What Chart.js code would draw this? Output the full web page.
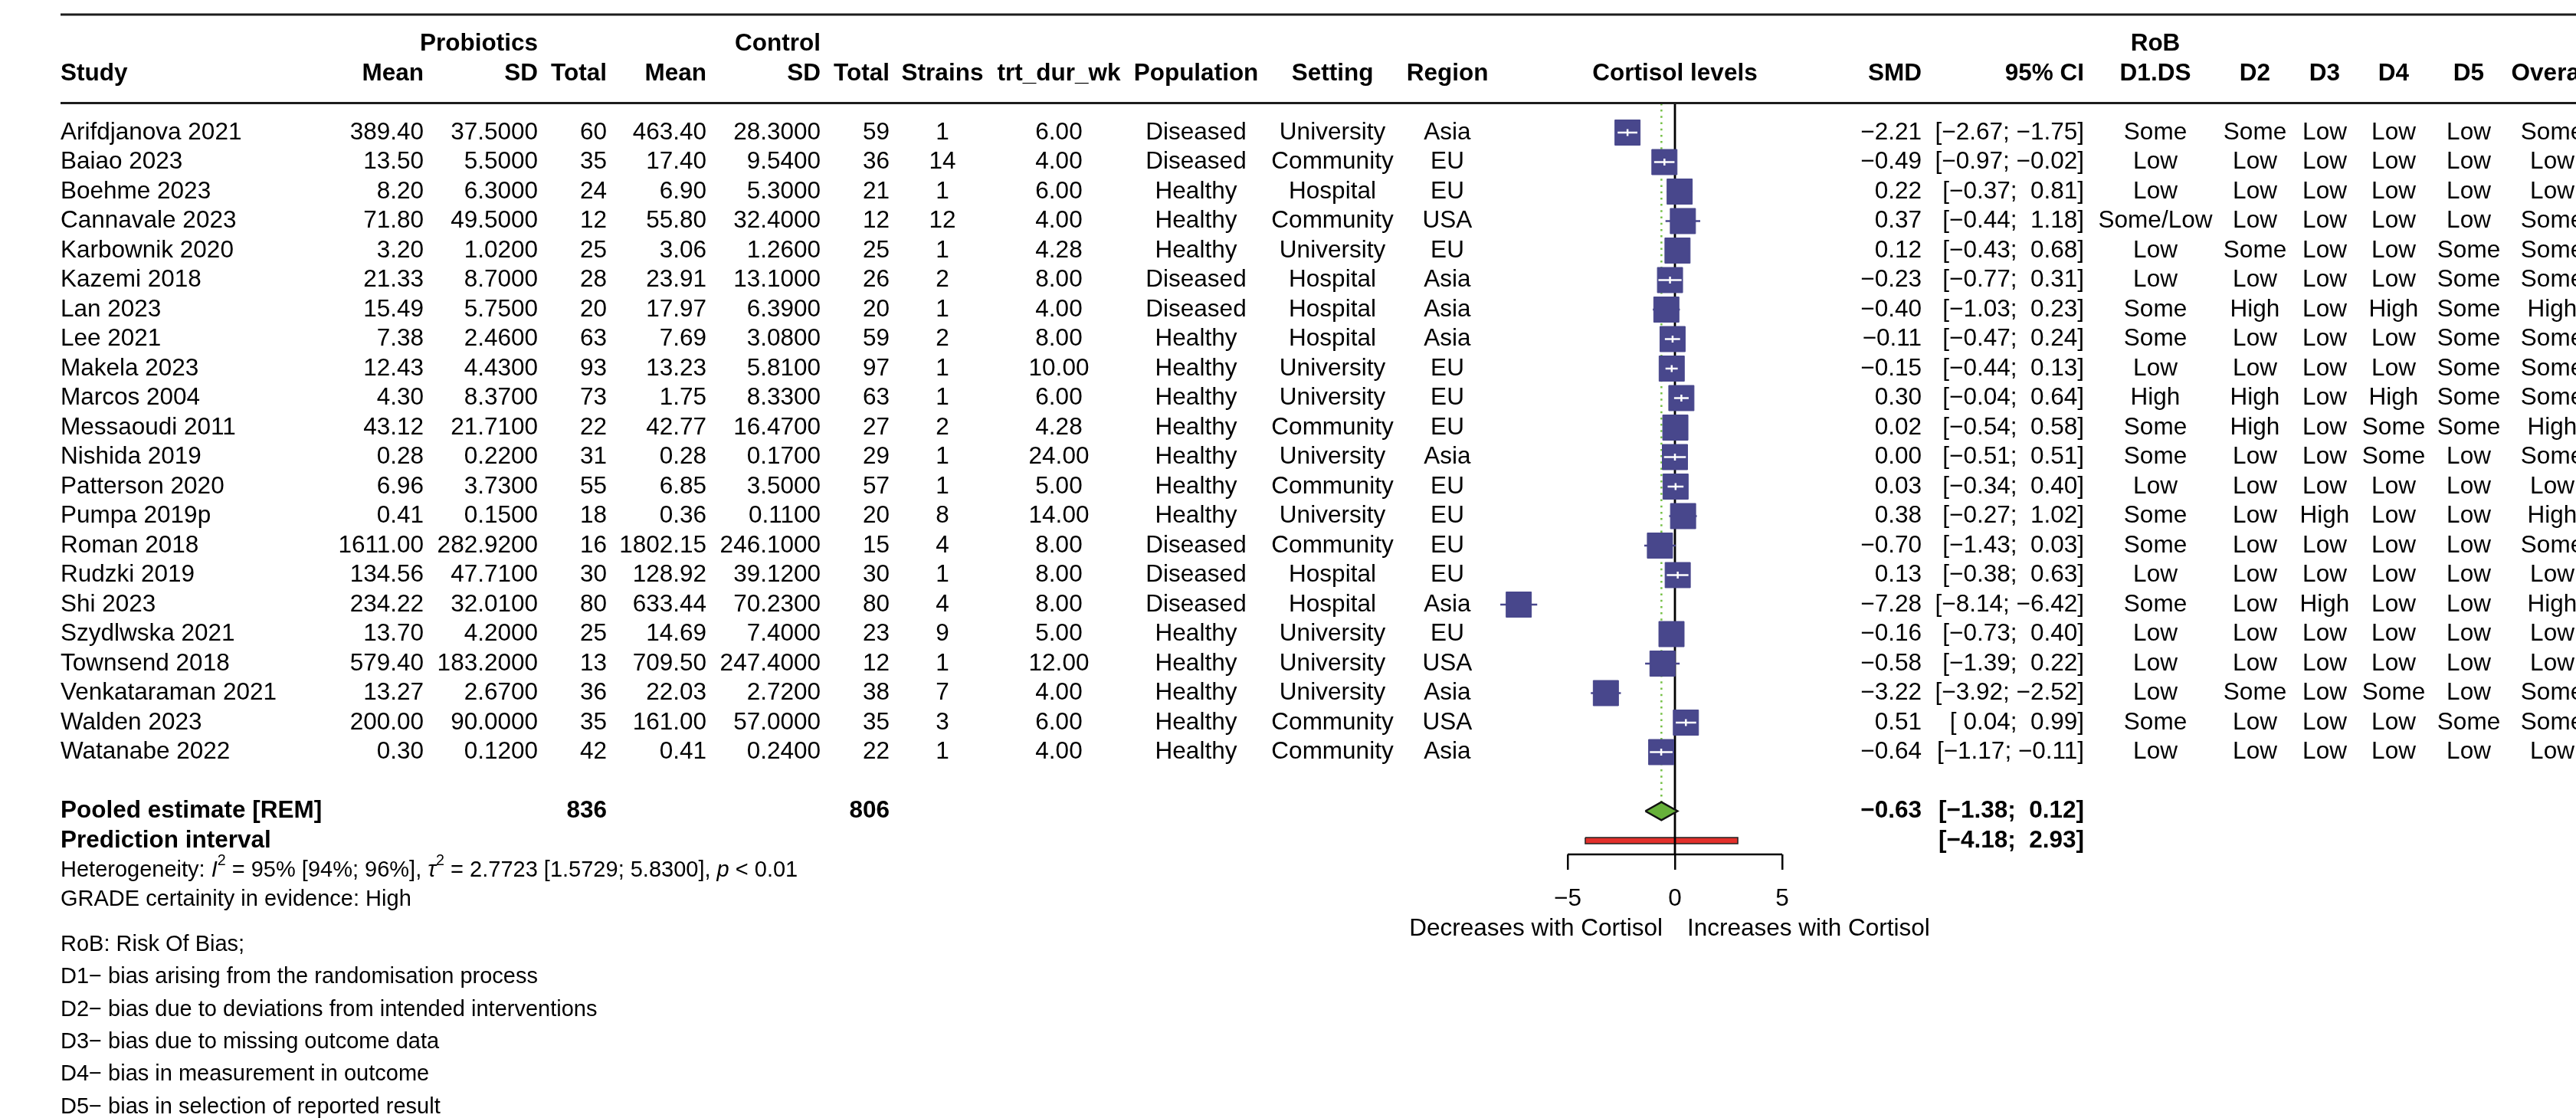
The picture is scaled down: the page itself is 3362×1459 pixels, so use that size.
<!DOCTYPE html>
<html lang="en">
<head>
<meta charset="UTF-8">
<title>Probiotics and cortisol levels - forest plot</title>
<style>
  body { margin: 0; background: #fff; }
  canvas { display: block; }
</style>
</head>
<body>
<canvas id="forest" width="3362" height="1459"></canvas>

<script src="https://cdn.jsdelivr.net/npm/chart.js@4"></script>
<script>
// ---- data ----
const studies = ['Arifdjanova 2021', 'Baiao 2023', 'Boehme 2023', 'Cannavale 2023', 'Karbownik 2020',
  'Kazemi 2018', 'Lan 2023', 'Lee 2021', 'Makela 2023', 'Marcos 2004', 'Messaoudi 2011', 'Nishida 2019',
  'Patterson 2020', 'Pumpa 2019p', 'Roman 2018', 'Rudzki 2019', 'Shi 2023', 'Szydlwska 2021',
  'Townsend 2018', 'Venkataraman 2021', 'Walden 2023', 'Watanabe 2022'];
const probMean = [389.40, 13.50, 8.20, 71.80, 3.20, 21.33, 15.49, 7.38, 12.43, 4.30, 43.12, 0.28,
  6.96, 0.41, 1611.00, 134.56, 234.22, 13.70, 579.40, 13.27, 200.00, 0.30];
const probSD = [37.5, 5.5, 6.3, 49.5, 1.02, 8.7, 5.75, 2.46, 4.43, 8.37, 21.71, 0.22,
  3.73, 0.15, 282.92, 47.71, 32.01, 4.2, 183.2, 2.67, 90.0, 0.12];
const probN = [60, 35, 24, 12, 25, 28, 20, 63, 93, 73, 22, 31, 55, 18, 16, 30, 80, 25, 13, 36, 35, 42];
const ctrlMean = [463.40, 17.40, 6.90, 55.80, 3.06, 23.91, 17.97, 7.69, 13.23, 1.75, 42.77, 0.28,
  6.85, 0.36, 1802.15, 128.92, 633.44, 14.69, 709.50, 22.03, 161.00, 0.41];
const ctrlSD = [28.3, 9.54, 5.3, 32.4, 1.26, 13.1, 6.39, 3.08, 5.81, 8.33, 16.47, 0.17,
  3.5, 0.11, 246.1, 39.12, 70.23, 7.4, 247.4, 2.72, 57.0, 0.24];
const ctrlN = [59, 36, 21, 12, 25, 26, 20, 59, 97, 63, 27, 29, 57, 20, 15, 30, 80, 23, 12, 38, 35, 22];
const strains = [1, 14, 1, 12, 1, 2, 1, 2, 1, 1, 2, 1, 1, 8, 4, 1, 4, 9, 1, 7, 3, 1];
const durationWk = [6, 4, 6, 4, 4.28, 8, 4, 8, 10, 6, 4.28, 24, 5, 14, 8, 8, 8, 5, 12, 4, 6, 4];
const population = ['Diseased', 'Diseased', 'Healthy', 'Healthy', 'Healthy', 'Diseased', 'Diseased',
  'Healthy', 'Healthy', 'Healthy', 'Healthy', 'Healthy', 'Healthy', 'Healthy', 'Diseased', 'Diseased',
  'Diseased', 'Healthy', 'Healthy', 'Healthy', 'Healthy', 'Healthy'];
const setting = ['University', 'Community', 'Hospital', 'Community', 'University', 'Hospital', 'Hospital',
  'Hospital', 'University', 'University', 'Community', 'University', 'Community', 'University',
  'Community', 'Hospital', 'Hospital', 'University', 'University', 'University', 'Community', 'Community'];
const region = ['Asia', 'EU', 'EU', 'USA', 'EU', 'Asia', 'Asia', 'Asia', 'EU', 'EU', 'EU', 'Asia',
  'EU', 'EU', 'EU', 'EU', 'Asia', 'EU', 'USA', 'Asia', 'USA', 'Asia'];
const smd = [-2.21, -0.49, 0.22, 0.37, 0.12, -0.23, -0.40, -0.11, -0.15, 0.30, 0.02, 0.00,
  0.03, 0.38, -0.70, 0.13, -7.28, -0.16, -0.58, -3.22, 0.51, -0.64];
const ciLow = [-2.67, -0.97, -0.37, -0.44, -0.43, -0.77, -1.03, -0.47, -0.44, -0.04, -0.54, -0.51,
  -0.34, -0.27, -1.43, -0.38, -8.14, -0.73, -1.39, -3.92, 0.04, -1.17];
const ciHigh = [-1.75, -0.02, 0.81, 1.18, 0.68, 0.31, 0.23, 0.24, 0.13, 0.64, 0.58, 0.51,
  0.40, 1.02, 0.03, 0.63, -6.42, 0.40, 0.22, -2.52, 0.99, -0.11];
const robD1 = ['Some', 'Low', 'Low', 'Some/Low', 'Low', 'Low', 'Some', 'Some', 'Low', 'High', 'Some', 'Some',
  'Low', 'Some', 'Some', 'Low', 'Some', 'Low', 'Low', 'Low', 'Some', 'Low'];
const robD2 = ['Some', 'Low', 'Low', 'Low', 'Some', 'Low', 'High', 'Low', 'Low', 'High', 'High', 'Low',
  'Low', 'Low', 'Low', 'Low', 'Low', 'Low', 'Low', 'Some', 'Low', 'Low'];
const robD3 = ['Low', 'Low', 'Low', 'Low', 'Low', 'Low', 'Low', 'Low', 'Low', 'Low', 'Low', 'Low',
  'Low', 'High', 'Low', 'Low', 'High', 'Low', 'Low', 'Low', 'Low', 'Low'];
const robD4 = ['Low', 'Low', 'Low', 'Low', 'Low', 'Low', 'High', 'Low', 'Low', 'High', 'Some', 'Some',
  'Low', 'Low', 'Low', 'Low', 'Low', 'Low', 'Low', 'Some', 'Low', 'Low'];
const robD5 = ['Low', 'Low', 'Low', 'Low', 'Some', 'Some', 'Some', 'Some', 'Some', 'Some', 'Some', 'Low',
  'Low', 'Low', 'Low', 'Low', 'Low', 'Low', 'Low', 'Low', 'Some', 'Low'];
const robOverall = ['Some', 'Low', 'Low', 'Some', 'Some', 'Some', 'High', 'Some', 'Some', 'Some', 'High', 'Some',
  'Low', 'High', 'Some', 'Low', 'High', 'Low', 'Low', 'Some', 'Some', 'Low'];

const pooledTotals = [836, 806];
const pooledSMD = -0.63;
const pooledCI = [-1.38, 0.12];
const predictionCI = [-4.18, 2.93];
const xTicks = [-5, 0, 5];
const hetI2 = [95, 94, 96];
const hetTau2 = [2.7723, 1.5729, 5.8300];
const hetP = '< 0.01';
const gradeText = 'GRADE certainity in evidence: High';
const robNotes = ['RoB: Risk Of Bias;',
  'D1\u2212 bias arising from the randomisation process',
  'D2\u2212 bias due to deviations from intended interventions',
  'D3\u2212 bias due to missing outcome data',
  'D4\u2212 bias in measurement in outcome',
  'D5\u2212 bias in selection of reported result'];

// ---- look ----
const FONT = '"Liberation Sans", Arial, sans-serif';
const NAVY = '#48478c';
const ROW0 = 173, STEP = 38.5;           // pixel centre of first study row, row height
const AREA_TOP = 135, AXIS_Y = 1115;     // header rule / x axis line
const X_MIN = -9;                        // room for Shi 2023 left of the axis
const BOX_UNITS = 1.09;                  // CI narrower than this fits inside the square
const Y_MIN = (AREA_TOP - ROW0) / STEP, Y_MAX = (AXIS_Y - ROW0) / STEP;

const minus = v => (v < 0 ? '\u2212' : '') + Math.abs(v).toFixed(2);
const pad5 = s => s.length < 5 ? ' '.repeat(5 - s.length) + s : s;
const fmtCI = (lo, hi) => '[' + pad5(minus(lo)) + '; ' + pad5(minus(hi)) + ']';

const rows = studies.map((s, i) => i);
const inside = rows.filter(i => ciHigh[i] - ciLow[i] <= BOX_UNITS);

const datasets = [];
// prediction interval bar
const pr = 24, ph = 0.105;
datasets.push({
  type: 'line', order: 10, clip: false, fill: 'shape', tension: 0, pointRadius: 0,
  backgroundColor: '#e3302b', borderColor: '#222', borderWidth: 1.5,
  data: [{x: predictionCI[0], y: pr - ph}, {x: predictionCI[1], y: pr - ph},
         {x: predictionCI[1], y: pr + ph}, {x: predictionCI[0], y: pr + ph}, {x: predictionCI[0], y: pr - ph}]
});
// line of no effect and x axis line (only between the outer ticks)
datasets.push({
  type: 'line', order: 9, clip: false, pointRadius: 0, borderColor: '#000', borderWidth: 2.8,
  data: [{x: 0, y: -0.99}, {x: 0, y: Y_MAX}]
});
datasets.push({
  type: 'line', order: 9, clip: false, pointRadius: 0, borderColor: '#000', borderWidth: 2.5,
  data: [{x: xTicks[0], y: Y_MAX}, {x: xTicks[xTicks.length - 1], y: Y_MAX}]
});
// pooled estimate reference (dotted)
datasets.push({
  type: 'line', order: 8, clip: false, pointRadius: 0, borderColor: '#74c044', borderWidth: 2.5,
  borderDash: [2.5, 5.7],
  data: [{x: pooledSMD, y: -0.99}, {x: pooledSMD, y: 23 - 0.32}]
});
// confidence intervals
rows.forEach(i => datasets.push({
  type: 'line', order: 6, clip: false, pointRadius: 0, borderColor: NAVY, borderWidth: 2.5,
  data: [{x: ciLow[i], y: i}, {x: ciHigh[i], y: i}]
}));
// study squares
datasets.push({
  type: 'scatter', order: 5, clip: false, pointStyle: 'rect', pointRadius: 23.3,
  backgroundColor: NAVY, borderColor: NAVY, borderWidth: 1,
  data: rows.map(i => ({x: smd[i], y: i}))
});
// CIs that fit inside the square are drawn in white
inside.forEach(i => datasets.push({
  type: 'line', order: 4, clip: false, pointRadius: 0, borderColor: '#fff', borderWidth: 2.5,
  data: [{x: ciLow[i], y: i}, {x: ciHigh[i], y: i}]
}));
datasets.push({
  type: 'scatter', order: 3, clip: false, pointStyle: 'line', rotation: 90, pointRadius: 4.5,
  borderColor: '#fff', borderWidth: 2.5,
  data: inside.map(i => ({x: smd[i], y: i}))
});
// pooled diamond
const dr = 23, dh = 0.31;
datasets.push({
  type: 'line', order: 2, clip: false, fill: 'shape', tension: 0, pointRadius: 0,
  backgroundColor: '#67b13a', borderColor: '#111', borderWidth: 2.5,
  data: [{x: pooledCI[0], y: dr}, {x: pooledSMD, y: dr - dh}, {x: pooledCI[1], y: dr},
         {x: pooledSMD, y: dr + dh}, {x: pooledCI[0], y: dr}]
});

// table columns: x position and alignment
const cols = {
  study: [79, 'left'], pMean: [553, 'right'], pSD: [702, 'right'], pN: [792, 'right'],
  cMean: [922, 'right'], cSD: [1071, 'right'], cN: [1161, 'right'], strains: [1230, 'center'],
  dur: [1382, 'center'], pop: [1561, 'center'], setting: [1739, 'center'], region: [1889, 'center'],
  smd: [2508, 'right'], ci: [2720, 'right'], d1: [2813, 'center'], d2: [2943, 'center'],
  d3: [3034, 'center'], d4: [3124, 'center'], d5: [3222, 'center'], overall: [3331, 'center']
};

const tablePlugin = {
  id: 'forestTable',
  afterDraw(chart) {
    const ctx = chart.ctx;
    const ys = chart.scales.y, xs = chart.scales.x;
    const rowY = r => ys.getPixelForValue(r);
    const put = (str, col, r, bold, size) => {
      ctx.font = (bold ? 'bold ' : '') + (size || 31.5) + 'px ' + FONT;
      ctx.textAlign = col[1];
      ctx.textBaseline = 'middle';
      ctx.fillStyle = '#000';
      ctx.fillText(str, col[0], rowY(r));
    };
    ctx.save();

    // horizontal rules
    ctx.strokeStyle = '#1c1c1c';
    ctx.lineWidth = 3;
    [-4, -1].forEach(r => {
      ctx.beginPath();
      ctx.moveTo(79, rowY(r));
      ctx.lineTo(chart.width, rowY(r));
      ctx.stroke();
    });

    // headers
    put('Probiotics', cols.pSD, -3, true);
    put('Control', cols.cSD, -3, true);
    put('RoB', cols.d1, -3, true);
    const heads = [['Study', cols.study], ['Mean', cols.pMean], ['SD', cols.pSD], ['Total', cols.pN],
      ['Mean', cols.cMean], ['SD', cols.cSD], ['Total', cols.cN], ['Strains', cols.strains],
      ['trt_dur_wk', cols.dur], ['Population', cols.pop], ['Setting', cols.setting], ['Region', cols.region],
      ['Cortisol levels', [xs.getPixelForValue(0), 'center']], ['SMD', cols.smd], ['95% CI', cols.ci],
      ['D1.DS', cols.d1], ['D2', cols.d2], ['D3', cols.d3], ['D4', cols.d4], ['D5', cols.d5],
      ['Overall', cols.overall]];
    heads.forEach(h => put(h[0], h[1], -2, true));

    // study rows
    rows.forEach(i => {
      put(studies[i], cols.study, i);
      put(probMean[i].toFixed(2), cols.pMean, i);
      put(probSD[i].toFixed(4), cols.pSD, i);
      put(String(probN[i]), cols.pN, i);
      put(ctrlMean[i].toFixed(2), cols.cMean, i);
      put(ctrlSD[i].toFixed(4), cols.cSD, i);
      put(String(ctrlN[i]), cols.cN, i);
      put(String(strains[i]), cols.strains, i);
      put(durationWk[i].toFixed(2), cols.dur, i);
      put(population[i], cols.pop, i);
      put(setting[i], cols.setting, i);
      put(region[i], cols.region, i);
      put(minus(smd[i]), cols.smd, i);
      put(fmtCI(ciLow[i], ciHigh[i]), cols.ci, i);
      put(robD1[i], cols.d1, i);
      put(robD2[i], cols.d2, i);
      put(robD3[i], cols.d3, i);
      put(robD4[i], cols.d4, i);
      put(robD5[i], cols.d5, i);
      put(robOverall[i], cols.overall, i);
    });

    // pooled rows
    put('Pooled estimate [REM]', cols.study, 23, true);
    put(String(pooledTotals[0]), cols.pN, 23, true);
    put(String(pooledTotals[1]), cols.cN, 23, true);
    put(minus(pooledSMD), cols.smd, 23, true);
    put(fmtCI(pooledCI[0], pooledCI[1]), cols.ci, 23, true);
    put('Prediction interval', cols.study, 24, true);
    put(fmtCI(predictionCI[0], predictionCI[1]), cols.ci, 24, true);

    // heterogeneity line with italics and superscripts
    const size = 29;
    const parts = [
      {t: 'Heterogeneity: '}, {t: 'I', it: true}, {t: '2', sup: true},
      {t: ' = ' + hetI2[0] + '% [' + hetI2[1] + '%; ' + hetI2[2] + '%], '},
      {t: '\u03c4', it: true}, {t: '2', sup: true},
      {t: ' = ' + hetTau2[0].toFixed(4) + ' [' + hetTau2[1].toFixed(4) + '; ' + hetTau2[2].toFixed(4) + '], '},
      {t: 'p', it: true}, {t: ' ' + hetP}
    ];
    let cx = cols.study[0];
    ctx.textAlign = 'left';
    ctx.textBaseline = 'middle';
    parts.forEach(p => {
      const s = p.sup ? size * 0.68 : size;
      ctx.font = (p.it ? 'italic ' : '') + s + 'px ' + FONT;
      ctx.fillText(p.t, cx, rowY(25) - (p.sup ? size * 0.4 : 0));
      cx += ctx.measureText(p.t).width;
    });
    put(gradeText, cols.study, 26, false, size);
    robNotes.forEach((t, k) => put(t, cols.study, 27.53 + k * 1.1, false, size));

    // axis side labels
    const x0 = xs.getPixelForValue(0);
    put('Decreases with Cortisol', [x0 - 16, 'right'], 27);
    put('Increases with Cortisol', [x0 + 16, 'left'], 27);
    ctx.restore();
  }
};

const ctx = document.getElementById('forest').getContext('2d');
const chart = new Chart(ctx, {
  type: 'scatter',
  data: { datasets: datasets },
  options: {
    responsive: false,
    animation: false,
    devicePixelRatio: 1,
    events: [],
    layout: { padding: { left: 2186 + X_MIN * 28, right: 3362 - 2326, top: AREA_TOP, bottom: 1459 - AXIS_Y - 76.8 } },
    plugins: { legend: { display: false }, tooltip: { enabled: false } },
    scales: {
      x: {
        type: 'linear', position: 'bottom', min: X_MIN, max: xTicks[xTicks.length - 1],
        afterBuildTicks: axis => { axis.ticks = xTicks.map(v => ({value: v})); },
        grid: { drawOnChartArea: false, drawTicks: true, tickLength: 20, color: '#000', lineWidth: 2.5 },
        border: { display: false },
        ticks: {
          padding: 19, color: '#000', font: { family: FONT, size: 31.5 },
          callback: v => (v < 0 ? '\u2212' + Math.abs(v) : String(v))
        }
      },
      y: {
        type: 'linear', display: false, reverse: true, min: Y_MIN, max: Y_MAX
      }
    }
  },
  plugins: [tablePlugin]
});

// keep the plot area bottom exactly on the axis line, whatever height the x axis took
const dy = chart.chartArea.bottom - AXIS_Y;
if (Math.abs(dy) > 0.5) {
  chart.options.layout.padding.bottom += dy;
  chart.update();
}
</script>
</body>
</html>
